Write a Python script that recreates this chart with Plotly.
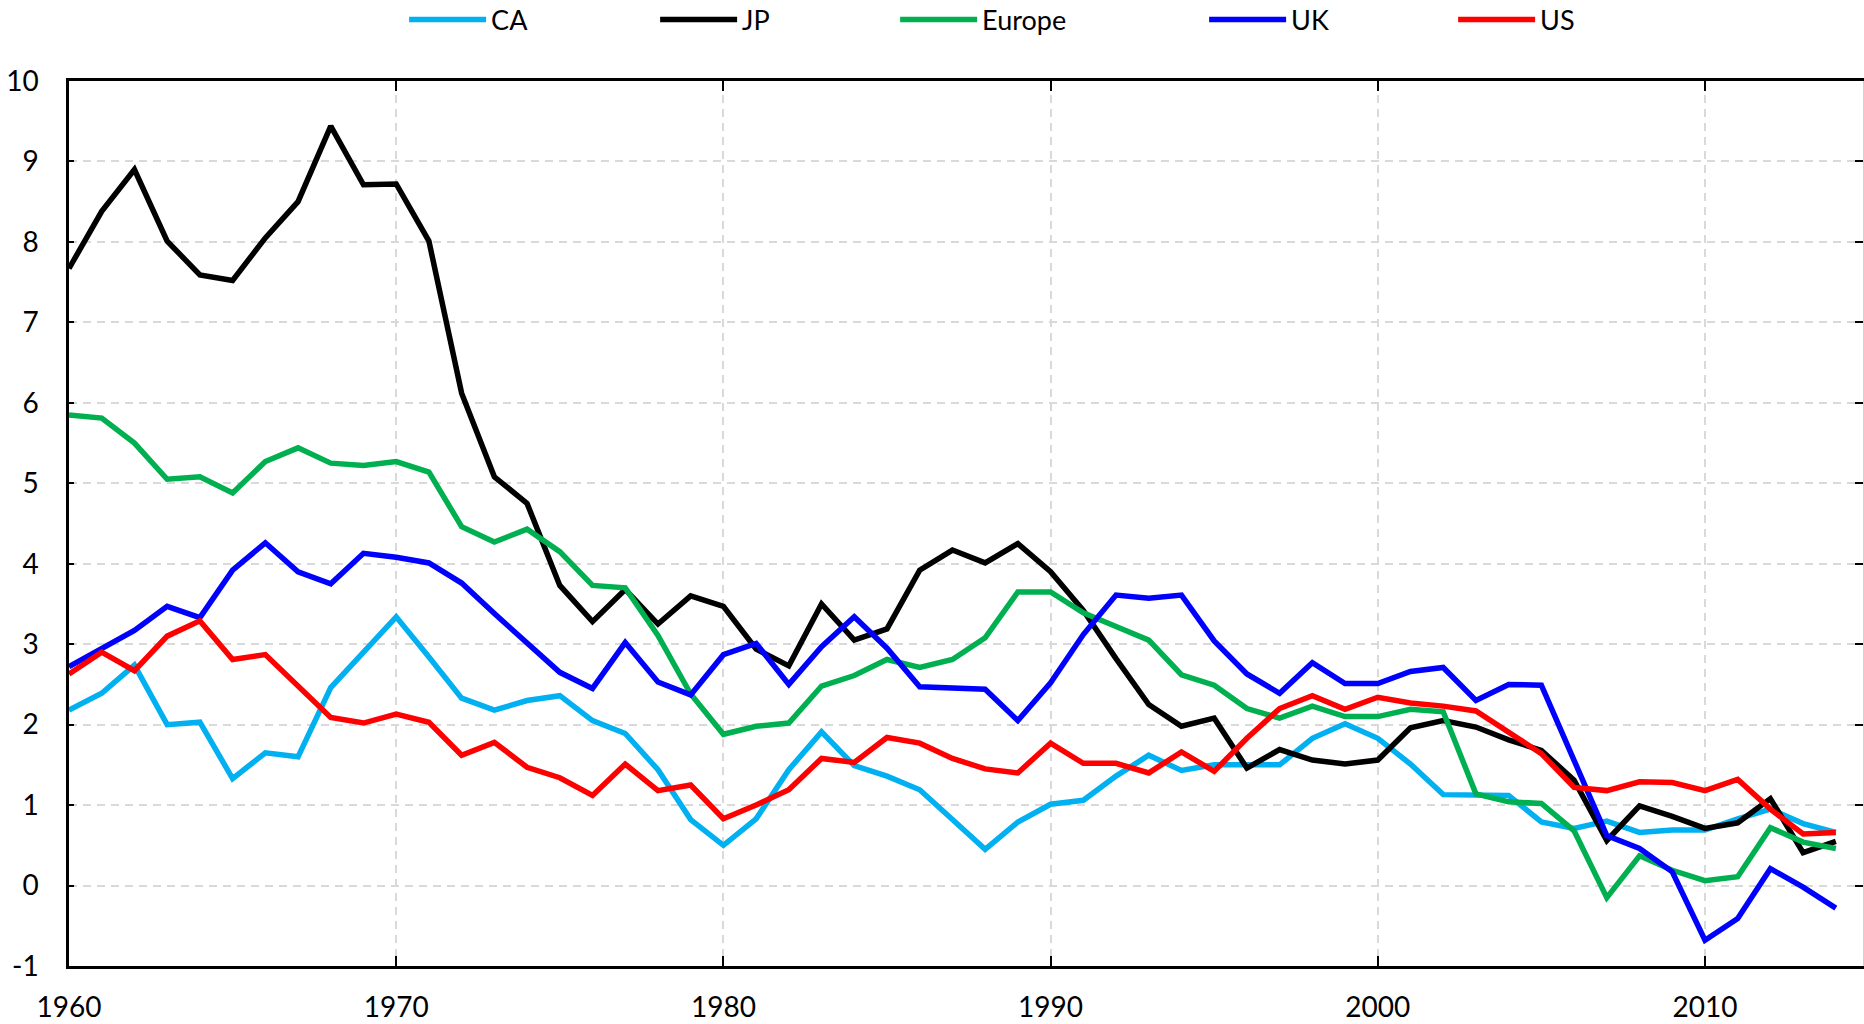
import plotly.graph_objects as go

years = list(range(1960, 2015))

ca = [2.18, 2.39, 2.74, 2.00, 2.03, 1.33, 1.65, 1.60, 2.46, 2.90,
      3.34, 2.84, 2.33, 2.18, 2.30, 2.36, 2.05, 1.89, 1.44, 0.82,
      0.50, 0.83, 1.44, 1.91, 1.49, 1.36, 1.19, 0.82, 0.45, 0.79,
      1.01, 1.06, 1.36, 1.62, 1.43, 1.50, 1.50, 1.50, 1.83, 2.01,
      1.83, 1.51, 1.13, 1.12, 1.12, 0.79, 0.71, 0.80, 0.66, 0.69,
      0.69, 0.83, 0.95, 0.77, 0.66]

jp = [7.67, 8.38, 8.90, 8.01, 7.59, 7.52, 8.05, 8.50, 9.44, 8.71,
      8.72, 8.01, 6.12, 5.08, 4.75, 3.73, 3.28, 3.68, 3.25, 3.60,
      3.47, 2.94, 2.73, 3.50, 3.05, 3.19, 3.92, 4.17, 4.01, 4.25,
      3.90, 3.42, 2.82, 2.25, 1.98, 2.08, 1.46, 1.69, 1.56, 1.51,
      1.56, 1.96, 2.05, 1.97, 1.81, 1.68, 1.31, 0.56, 0.99, 0.86,
      0.71, 0.78, 1.08, 0.41, 0.55]

europe = [5.85, 5.81, 5.50, 5.05, 5.08, 4.88, 5.27, 5.44, 5.25, 5.22,
          5.27, 5.14, 4.46, 4.27, 4.43, 4.15, 3.73, 3.70, 3.11, 2.38,
          1.88, 1.98, 2.02, 2.48, 2.61, 2.81, 2.71, 2.81, 3.08, 3.65,
          3.65, 3.39, 3.22, 3.05, 2.62, 2.49, 2.20, 2.08, 2.23, 2.10,
          2.10, 2.19, 2.16, 1.14, 1.04, 1.02, 0.68, -0.15, 0.37, 0.19,
          0.06, 0.11, 0.72, 0.54, 0.46]

uk = [2.72, 2.94, 3.17, 3.47, 3.33, 3.92, 4.26, 3.90, 3.75, 4.13,
      4.08, 4.01, 3.76, 3.38, 3.01, 2.65, 2.45, 3.02, 2.53, 2.37,
      2.87, 3.01, 2.50, 2.97, 3.34, 2.95, 2.47, 2.45, 2.44, 2.05,
      2.52, 3.12, 3.61, 3.57, 3.61, 3.04, 2.63, 2.39, 2.77, 2.51,
      2.51, 2.66, 2.71, 2.30, 2.50, 2.49, 1.55, 0.62, 0.46, 0.17,
      -0.68, -0.41, 0.21, -0.02, -0.28]

us = [2.63, 2.90, 2.67, 3.10, 3.29, 2.81, 2.87, 2.49, 2.09, 2.02,
      2.13, 2.03, 1.62, 1.78, 1.47, 1.34, 1.12, 1.51, 1.18, 1.25,
      0.83, 1.00, 1.19, 1.58, 1.53, 1.84, 1.77, 1.58, 1.45, 1.40,
      1.77, 1.52, 1.52, 1.40, 1.66, 1.42, 1.83, 2.20, 2.36, 2.19,
      2.34, 2.27, 2.23, 2.17, 1.91, 1.64, 1.22, 1.18, 1.29, 1.28,
      1.18, 1.32, 0.95, 0.64, 0.66]

series = [
    ("CA", ca, "#00B0F0", 159),
    ("JP", jp, "#000000", 148),
    ("Europe", europe, "#00B050", 217),
    ("UK", uk, "#0000FF", 157),
    ("US", us, "#FF0000", 60),
]

x_ticks = [1960, 1970, 1980, 1990, 2000, 2010]
y_ticks = list(range(-1, 11))

FONT = "Lato"
FS = 28

fig = go.Figure()
for name, vals, color, lw in series:
    fig.add_trace(go.Scatter(
        x=years, y=vals, name=name, mode="lines",
        line=dict(color=color, width=5.5),
        legendwidth=lw,
    ))

# invisible helper trace for right-side mirrored ticks
fig.add_trace(go.Scatter(x=[years[0]], y=[0], yaxis="y2", mode="lines",
                         showlegend=False, hoverinfo="skip",
                         line=dict(width=0)))

fig.update_layout(
    width=1864, height=1024,
    margin=dict(l=69, r=1, t=81, b=58, autoexpand=False),
    plot_bgcolor="white", paper_bgcolor="white",
    font=dict(family=FONT, size=FS, color="#000000"),
    showlegend=True,
    legend=dict(
        orientation="h", xref="container", yref="container",
        x=0.2168, xanchor="left", y=0.9805, yanchor="middle",
        itemwidth=77, font=dict(family=FONT, size=27, color="#000000"),
        bgcolor="rgba(0,0,0,0)", traceorder="normal",
    ),
    xaxis=dict(
        range=[1960, 2014.83], tickvals=x_ticks, ticktext=[str(v) for v in x_ticks],
        showgrid=True, gridcolor="#d9d9d9", gridwidth=2, griddash="8px,6px",
        showline=True, linecolor="#000000", linewidth=2.5, mirror="ticks",
        ticks="inside", ticklen=10, tickwidth=2, tickcolor="#000000",
        zeroline=False, ticklabelstandoff=15, automargin=False,
        tickfont=dict(family=FONT, size=FS, color="#000000"),
    ),
    yaxis=dict(
        range=[-1, 10], tickvals=y_ticks, ticktext=[str(v) for v in y_ticks],
        showgrid=True, gridcolor="#d9d9d9", gridwidth=2, griddash="8px,6px",
        showline=True, linecolor="#000000", linewidth=2.5,
        ticks="inside", ticklen=5, tickwidth=2, tickcolor="#000000",
        zeroline=False, ticklabelstandoff=22, automargin=False,
        tickfont=dict(family=FONT, size=FS, color="#000000"),
    ),
    yaxis2=dict(
        overlaying="y", side="right", range=[-1, 10], tickvals=y_ticks,
        showticklabels=False, showgrid=False, zeroline=False, automargin=False,
        showline=True, linecolor="#d0d0d0", linewidth=1,
        ticks="inside", ticklen=8, tickwidth=2, tickcolor="#000000",
    ),
)

# remove the default page margin so the figure fills the window exactly
post_js = ("document.body.style.margin='0';"
           "document.documentElement.style.overflow='hidden';")

fig.write_html("out.html", post_script=post_js,
               config={"displayModeBar": False})
